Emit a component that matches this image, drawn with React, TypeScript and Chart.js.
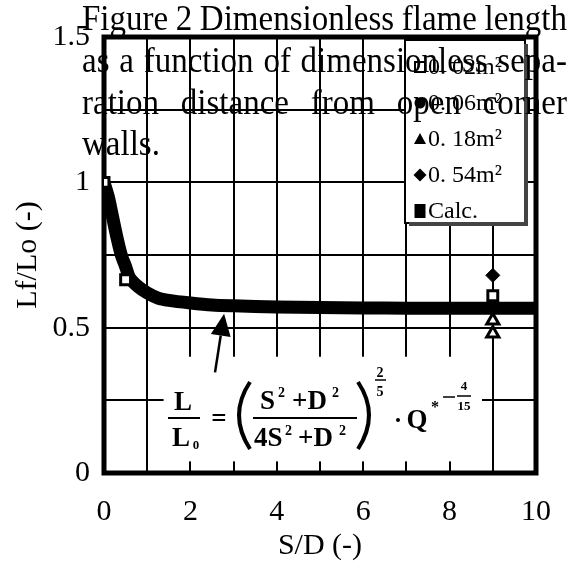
import React, { useEffect, useRef } from 'react';
import { Chart, registerables } from 'chart.js';

Chart.register(...registerables);

// ---- data ----
const calcS = [0, 0.1, 0.2, 0.3, 0.4, 0.5, 0.6, 0.8, 1.0, 1.25, 1.5, 2.0, 2.5, 3, 4, 5, 6, 7, 8, 9, 10];
const calcL = [1.0, 0.95, 0.88, 0.81, 0.75, 0.71, 0.67, 0.64, 0.62, 0.602, 0.594, 0.585, 0.578, 0.575, 0.571, 0.569, 0.568, 0.567, 0.567, 0.567, 0.567];

const a002S = [0, 0.5, 9];
const a002L = [1.0, 0.665, 0.61];
const a006S = [9];
const a006L = [0.57];
const a018S = [9, 9];
const a018L = [0.525, 0.48];
const a054S = [9];
const a054L = [0.68];

const seriesLabels = ['0. 02m²', '0. 06m²', '0. 18m²', '0. 54m²', 'Calc.'];
const xTickLabels = [0, 2, 4, 6, 8, 10];
const yTickLabels = [0, 0.5, 1, 1.5];
const xTitle = 'S/D (-)';
const yTitle = 'Lf/Lo (-)';
const captionLines = [
  'Figure 2 Dimensionless flame length',
  'as a function of dimensionless sepa-',
  'ration distance from open corner',
  'walls.',
];

const SERIF = "'Liberation Serif', 'Times New Roman', serif";

const toPts = (xs: number[], ys: number[]) => xs.map((v, i) => ({ x: v, y: ys[i] }));

function drawJustified(ctx: CanvasRenderingContext2D, text: string, x1: number, x2: number, y: number, justify: boolean) {
  const words = text.split(' ');
  if (!justify || words.length < 2) {
    ctx.fillText(text, x1, y);
    return;
  }
  const widths = words.map((w) => ctx.measureText(w).width);
  const total = widths.reduce((a, b) => a + b, 0);
  const gap = (x2 - x1 - total) / (words.length - 1);
  let cx = x1;
  words.forEach((w, i) => {
    ctx.fillText(w, cx, y);
    cx += widths[i] + gap;
  });
}

const overlayPlugin = {
  id: 'overlay',
  beforeDatasetsDraw(chart: any) {
    const { ctx, chartArea: ca, scales } = chart;
    const x = scales.x;
    const y = scales.y;
    ctx.save();
    // white box behind formula
    ctx.fillStyle = '#fff';
    const bx1 = x.getPixelForValue(1.38);
    const bx2 = x.getPixelForValue(8.75);
    const by1 = y.getPixelForValue(0.4);
    const by2 = y.getPixelForValue(0.04);
    ctx.fillRect(bx1, by1, bx2 - bx1, by2 - by1);
    // frame
    ctx.strokeStyle = '#000';
    ctx.lineWidth = 5;
    ctx.strokeRect(ca.left, ca.top, ca.right - ca.left, ca.bottom - ca.top);
    ctx.restore();
  },
  afterDatasetsDraw(chart: any) {
    const { ctx, scales } = chart;
    const x = scales.x;
    const y = scales.y;
    ctx.save();

    // ---- legend ----
    const lx1 = 405, lx2 = 525, ly1 = 40, ly2 = 223;
    ctx.fillStyle = '#fff';
    ctx.fillRect(lx1, ly1, lx2 - lx1, ly2 - ly1);
    ctx.strokeStyle = '#000';
    ctx.lineWidth = 2;
    ctx.strokeRect(lx1, ly1, lx2 - lx1, ly2 - ly1);
    ctx.strokeStyle = '#444';
    ctx.lineWidth = 4;
    ctx.beginPath();
    ctx.moveTo(lx2 + 1, ly1 + 4);
    ctx.lineTo(lx2 + 1, ly2 + 1);
    ctx.lineTo(lx1 + 4, ly2 + 1);
    ctx.stroke();
    const rows = [67, 103, 139, 175, 211];
    ctx.font = `24px ${SERIF}`;
    ctx.textBaseline = 'middle';
    ctx.textAlign = 'left';
    rows.forEach((ry, i) => {
      const mx = 420;
      ctx.fillStyle = '#000';
      ctx.strokeStyle = '#000';
      ctx.lineWidth = 2;
      ctx.beginPath();
      if (i === 0) {
        ctx.fillStyle = '#fff';
        ctx.rect(mx - 5, ry - 5, 10, 10);
        ctx.fill();
        ctx.stroke();
      } else if (i === 1) {
        ctx.arc(mx, ry, 5.5, 0, Math.PI * 2);
        ctx.fill();
      } else if (i === 2) {
        ctx.moveTo(mx, ry - 6);
        ctx.lineTo(mx + 6, ry + 5);
        ctx.lineTo(mx - 6, ry + 5);
        ctx.closePath();
        ctx.fill();
      } else if (i === 3) {
        ctx.moveTo(mx, ry - 6.5);
        ctx.lineTo(mx + 6.5, ry);
        ctx.lineTo(mx, ry + 6.5);
        ctx.lineTo(mx - 6.5, ry);
        ctx.closePath();
        ctx.fill();
      } else {
        ctx.rect(mx - 5.5, ry - 7, 11, 14);
        ctx.fill();
      }
      ctx.fillStyle = '#000';
      ctx.fillText(seriesLabels[i], 428, ry + 1);
    });

    // ---- arrow ----
    const ax0 = x.getPixelForValue(2.57), ay0 = y.getPixelForValue(0.346);
    const ax1 = x.getPixelForValue(2.78), ay1 = y.getPixelForValue(0.548);
    const ang = Math.atan2(ay1 - ay0, ax1 - ax0);
    const hl = 22, hw = 10;
    const bxm = ax1 - hl * Math.cos(ang), bym = ay1 - hl * Math.sin(ang);
    ctx.strokeStyle = '#000';
    ctx.lineWidth = 2.5;
    ctx.beginPath();
    ctx.moveTo(ax0, ay0);
    ctx.lineTo(bxm, bym);
    ctx.stroke();
    ctx.fillStyle = '#000';
    ctx.beginPath();
    ctx.moveTo(ax1, ay1);
    ctx.lineTo(bxm + hw * Math.sin(ang), bym - hw * Math.cos(ang));
    ctx.lineTo(bxm - hw * Math.sin(ang), bym + hw * Math.cos(ang));
    ctx.closePath();
    ctx.fill();

    // ---- formula ----
    ctx.fillStyle = '#000';
    ctx.strokeStyle = '#000';
    ctx.textBaseline = 'alphabetic';
    ctx.textAlign = 'center';
    const big = `bold 27px ${SERIF}`;
    const sup = `bold 14px ${SERIF}`;
    // L / L0
    ctx.font = big;
    ctx.fillText('L', 183, 410);
    ctx.fillText('L', 181, 446);
    ctx.font = `bold 13px ${SERIF}`;
    ctx.fillText('0', 196, 449);
    ctx.lineWidth = 2;
    ctx.beginPath(); ctx.moveTo(168, 418); ctx.lineTo(200, 418); ctx.stroke();
    // =
    ctx.font = big;
    ctx.fillText('=', 219, 427);
    // parens
    ctx.lineWidth = 4;
    ctx.beginPath(); ctx.moveTo(250, 382); ctx.quadraticCurveTo(228, 415, 250, 449); ctx.stroke();
    ctx.beginPath(); ctx.moveTo(358, 382); ctx.quadraticCurveTo(380, 415, 358, 449); ctx.stroke();
    // inner fraction
    ctx.textAlign = 'left';
    ctx.font = big;
    ctx.fillText('S', 260, 409);
    ctx.font = sup; ctx.fillText('2', 278, 397);
    ctx.font = big; ctx.fillText('+D', 292, 409);
    ctx.font = sup; ctx.fillText('2', 332, 397);
    ctx.lineWidth = 2;
    ctx.beginPath(); ctx.moveTo(253, 418); ctx.lineTo(357, 418); ctx.stroke();
    ctx.font = big; ctx.fillText('4S', 254, 446);
    ctx.font = sup; ctx.fillText('2', 285, 435);
    ctx.font = big; ctx.fillText('+D', 298, 446);
    ctx.font = sup; ctx.fillText('2', 339, 435);
    // exponent 2/5
    ctx.textAlign = 'center';
    ctx.font = sup;
    ctx.fillText('2', 380, 377);
    ctx.fillText('5', 380, 396);
    ctx.lineWidth = 1.5;
    ctx.beginPath(); ctx.moveTo(375, 380); ctx.lineTo(386, 380); ctx.stroke();
    // · Q*
    ctx.beginPath(); ctx.arc(398, 420, 2, 0, Math.PI * 2); ctx.fill();
    ctx.font = big;
    ctx.fillText('Q', 417, 428);
    ctx.font = `bold 16px ${SERIF}`;
    ctx.fillText('*', 435, 412);
    ctx.lineWidth = 1.5;
    ctx.beginPath(); ctx.moveTo(443, 397); ctx.lineTo(455, 397); ctx.stroke();
    ctx.font = `bold 13px ${SERIF}`;
    ctx.fillText('4', 464, 390);
    ctx.fillText('15', 464, 410);
    ctx.beginPath(); ctx.moveTo(457, 396); ctx.lineTo(471, 396); ctx.stroke();

    ctx.restore();
  },
  afterDraw(chart: any) {
    const { ctx } = chart;
    ctx.save();
    ctx.fillStyle = '#000';
    ctx.font = `33px ${SERIF}`;
    ctx.textBaseline = 'alphabetic';
    ctx.textAlign = 'left';
    const baselines = [30, 72, 114, 155];
    captionLines.forEach((line, i) => {
      ctx.save();
      ctx.translate(0, baselines[i]);
      ctx.scale(1, 1.06);
      drawJustified(ctx, line, 82, 567, 0, i < 3);
      ctx.restore();
    });
    ctx.restore();
  },
};

export default function App() {
  const ref = useRef<HTMLCanvasElement | null>(null);
  useEffect(() => {
    if (!ref.current) return;
    const chart = new Chart(ref.current, {
      type: 'scatter',
      data: {
        datasets: [
          {
            label: seriesLabels[0],
            data: toPts(a002S, a002L),
            pointStyle: 'rect',
            pointRadius: 7,
            backgroundColor: '#fff',
            borderColor: '#000',
            borderWidth: 3,
            order: 1,
          },
          {
            label: seriesLabels[1],
            data: toPts(a006S, a006L),
            pointStyle: 'circle',
            pointRadius: 5,
            backgroundColor: '#000',
            borderColor: '#000',
            order: 2,
          },
          {
            label: seriesLabels[2],
            data: toPts(a018S, a018L),
            pointStyle: 'triangle',
            pointRadius: 7,
            backgroundColor: '#fff',
            borderColor: '#000',
            borderWidth: 3,
            order: 3,
          },
          {
            label: seriesLabels[3],
            data: toPts(a054S, a054L),
            pointStyle: 'rectRot',
            pointRadius: 7,
            backgroundColor: '#000',
            borderColor: '#000',
            order: 4,
          },
          {
            type: 'line',
            label: seriesLabels[4],
            data: toPts(calcS, calcL),
            borderColor: '#000',
            backgroundColor: '#000',
            borderWidth: 13,
            pointRadius: 0,
            tension: 0.3,
            borderJoinStyle: 'round',
            showLine: true,
            fill: false,
            order: 10,
          } as any,
        ],
      },
      options: {
        animation: false,
        responsive: false,
        devicePixelRatio: 1,
        layout: { padding: { left: 0, top: 37, right: 40, bottom: 0 } },
        plugins: {
          legend: { display: false },
          tooltip: { enabled: false },
        },
        scales: {
          x: {
            type: 'linear',
            min: 0,
            max: 10,
            afterFit: (s: any) => { s.height = 93; },
            ticks: {
              stepSize: 1,
              autoSkip: false,
              maxRotation: 0,
              padding: 21,
              color: '#000',
              font: { family: SERIF, size: 30 },
              callback: (v: any) => (xTickLabels.includes(Number(v)) ? String(v) : ''),
            },
            grid: { color: '#000', lineWidth: 2, drawTicks: false },
            border: { display: false },
            title: {
              display: true,
              text: xTitle,
              color: '#000',
              font: { family: SERIF, size: 30 },
              padding: { top: 0, bottom: 2 },
            },
          },
          y: {
            type: 'linear',
            min: 0,
            max: 1.5,
            afterFit: (s: any) => { s.width = 104; },
            ticks: {
              stepSize: 0.25,
              autoSkip: false,
              padding: 14,
              color: '#000',
              font: { family: SERIF, size: 30 },
              callback: (v: any) => (yTickLabels.some((t) => Math.abs(t - Number(v)) < 1e-9) ? String(Number(v)) : ''),
            },
            grid: { color: '#000', lineWidth: 2, drawTicks: false },
            border: { display: false },
            title: {
              display: true,
              text: yTitle,
              color: '#000',
              font: { family: SERIF, size: 30 },
              padding: { top: 10, bottom: 0 },
            },
          },
        },
      },
      plugins: [overlayPlugin],
    });
    return () => chart.destroy();
  }, []);

  return (
    <div style={{ position: 'fixed', left: 0, top: 0, width: 576, height: 566, background: '#fff' }}>
      <canvas ref={ref} width={576} height={566} style={{ display: 'block', width: 576, height: 566 }} />
    </div>
  );
}
